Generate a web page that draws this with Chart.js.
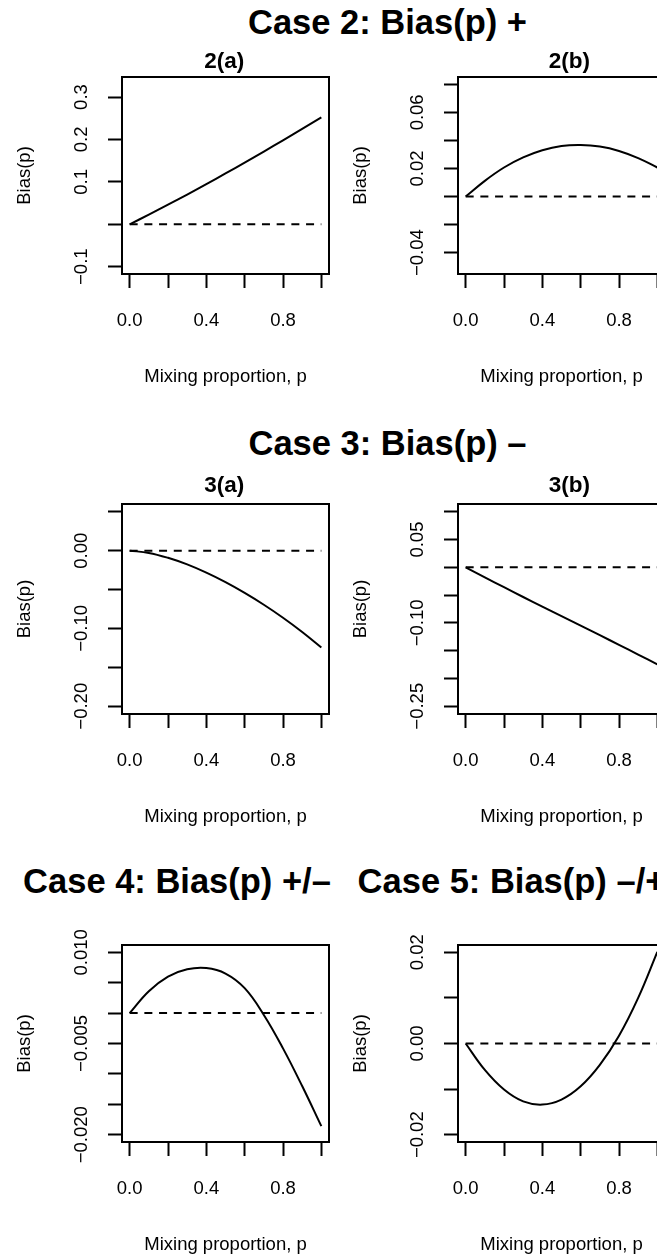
<!DOCTYPE html>
<html>
<head>
<meta charset="utf-8">
<title>Bias(p) by mixing proportion</title>
<script src="https://cdn.jsdelivr.net/npm/chart.js@4.4.1/dist/chart.umd.min.js"></script>
<style>
  html, body { margin: 0; padding: 0; background: #fff; }
  body { position: relative; width: 657px; height: 1260px; overflow: hidden; }
  canvas { position: absolute; }
  .case { position: absolute; width: 600px; text-align: center; white-space: nowrap; color: #000;
          font: bold 34.5px "Liberation Sans", Arial, Helvetica, sans-serif; line-height: 1; }
</style>
</head>
<body>
<script>
// mixing proportion where the curves were read
const p = [0, 0.1, 0.2, 0.3, 0.4, 0.5, 0.6, 0.7, 0.8, 0.9, 1.0];

// Bias(p) for each panel
const bias2a = [0, 0.0227, 0.0461, 0.0701, 0.0947, 0.1198, 0.1454, 0.1715, 0.1980, 0.2249, 0.2522];
const bias2b = [0, 0.0112, 0.0207, 0.0279, 0.0330, 0.0360, 0.0367, 0.0356, 0.0325, 0.0274, 0.0207];
const bias3a = [0, -0.0029, -0.0092, -0.0177, -0.0283, -0.0405, -0.0543, -0.0695, -0.0862, -0.1045, -0.1244];
const bias3b = [0, -0.0180, -0.0358, -0.0534, -0.0708, -0.0880, -0.1051, -0.1222, -0.1395, -0.1570, -0.1747];
const bias4 = [0, 0.0036, 0.0060, 0.0072, 0.0074, 0.0065, 0.0041, -0.0003, -0.0058, -0.0120, -0.0186];
const bias5 = [0, -0.0058, -0.0101, -0.0127, -0.0134, -0.0123, -0.0094, -0.0047, 0.0017, 0.0100, 0.0201];

// dashed reference line
const zeroP = [0, 1];
const zeroBias = [0, 0];

// axis limits (before R's 4% extension)
const ylim2a = [-0.1, 0.33];
const ylim2b = [-0.05, 0.08];
const ylim3a = [-0.2, 0.05];
const ylim3b = [-0.25, 0.10];
const ylim4 = [-0.02, 0.01];
const ylim5 = [-0.02, 0.02];

// ticks and their labels ('' = tick without label)
const xTicks = [0, 0.2, 0.4, 0.6, 0.8, 1.0];
const xTickLabels = ['0.0', '', '0.4', '', '0.8', ''];
const yTicks2a = [-0.1, 0, 0.1, 0.2, 0.3];
const yTickLabels2a = ['\u22120.1', '', '0.1', '0.2', '0.3'];
const yTicks2b = [-0.04, -0.02, 0, 0.02, 0.04, 0.06, 0.08];
const yTickLabels2b = ['\u22120.04', '', '', '0.02', '', '0.06', ''];
const yTicks3a = [-0.2, -0.15, -0.1, -0.05, 0, 0.05];
const yTickLabels3a = ['\u22120.20', '', '\u22120.10', '', '0.00', ''];
const yTicks3b = [-0.25, -0.2, -0.15, -0.1, -0.05, 0, 0.05, 0.1];
const yTickLabels3b = ['\u22120.25', '', '', '\u22120.10', '', '', '0.05', ''];
const yTicks4 = [-0.02, -0.015, -0.01, -0.005, 0, 0.005, 0.01];
const yTickLabels4 = ['\u22120.020', '', '', '\u22120.005', '', '', '0.010'];
const yTicks5 = [-0.02, -0.01, 0, 0.01, 0.02];
const yTickLabels5 = ['\u22120.02', '', '0.00', '', '0.02'];

const caseTitles = ['Case 2: Bias(p) +', 'Case 3: Bias(p) \u2013', 'Case 4: Bias(p) +/\u2013', 'Case 5: Bias(p) \u2013/+'];
const xTitle = 'Mixing proportion, p';
const yTitle = 'Bias(p)';

// ---- layout (pixels) ----
const FONT = '"Liberation Sans", Arial, Helvetica, sans-serif';
const AXIS_SIZE = 18.5;
const TITLE_SIZE = 22.5;
const BOX_W = 207;
const boxTop = [77, 504, 945];
const boxH = [197, 210, 197];
const titleRise = [9.5, 12.2];       // panel title baseline above box
const titleDx = [102.2, 111.3];      // panel title centre from box left
const caseLayout = [
  {center: 387.5, top: 4.8},
  {center: 387.5, top: 425.8},
  {center: 177, top: 863.5},
  {center: 511.5, top: 863.5}
];

Chart.defaults.font.family = FONT;
Chart.defaults.color = '#000';

caseTitles.forEach((t, i) => {
  const d = document.createElement('div');
  d.className = 'case';
  d.textContent = t;
  d.style.left = (caseLayout[i].center - 300) + 'px';
  d.style.top = caseLayout[i].top + 'px';
  document.body.appendChild(d);
});

// box, rotated y tick labels and panel title, R style
const rDecor = {
  id: 'rDecor',
  afterDraw(chart, args, o) {
    const {ctx, chartArea: a} = chart;
    const ys = chart.scales.y;
    ctx.save();
    ctx.strokeStyle = '#000';
    ctx.lineWidth = 2;
    ctx.strokeRect(a.left, a.top, a.right - a.left, a.bottom - a.top);
    ctx.fillStyle = '#000';
    ctx.textAlign = 'center';
    ctx.textBaseline = 'alphabetic';
    ctx.font = AXIS_SIZE + 'px ' + FONT;
    o.ticks.forEach((v, i) => {
      if (!o.labels[i]) return;
      ctx.save();
      ctx.translate(a.left - 42, ys.getPixelForValue(v));
      ctx.rotate(-Math.PI / 2);
      ctx.fillText(o.labels[i], 0, 0.358 * AXIS_SIZE);
      ctx.restore();
    });
    if (o.title) {
      ctx.font = 'bold ' + TITLE_SIZE + 'px ' + FONT;
      ctx.fillText(o.title, a.left + o.dx, a.top - o.rise);
    }
    ctx.restore();
  }
};

const panels = [
  {row: 0, col: 0, title: '2(a)', bias: bias2a, ylim: ylim2a, yTicks: yTicks2a, yLabels: yTickLabels2a},
  {row: 0, col: 1, title: '2(b)', bias: bias2b, ylim: ylim2b, yTicks: yTicks2b, yLabels: yTickLabels2b},
  {row: 1, col: 0, title: '3(a)', bias: bias3a, ylim: ylim3a, yTicks: yTicks3a, yLabels: yTickLabels3a},
  {row: 1, col: 1, title: '3(b)', bias: bias3b, ylim: ylim3b, yTicks: yTicks3b, yLabels: yTickLabels3b},
  {row: 2, col: 0, title: '', bias: bias4, ylim: ylim4, yTicks: yTicks4, yLabels: yTickLabels4},
  {row: 2, col: 1, title: '', bias: bias5, ylim: ylim5, yTicks: yTicks5, yLabels: yTickLabels5}
];

function makePanel(pn) {
  const w = 122 + BOX_W + 30;
  const h = 40 + boxH[pn.row] + 125;
  const cv = document.createElement('canvas');
  cv.width = w;
  cv.height = h;
  cv.style.width = w + 'px';
  cv.style.height = h + 'px';
  cv.style.left = (pn.col * 336) + 'px';
  cv.style.top = (boxTop[pn.row] - 40) + 'px';
  document.body.appendChild(cv);

  const ext = 0.04 * (pn.ylim[1] - pn.ylim[0]);
  const axisFont = {family: FONT, size: AXIS_SIZE};
  const grid = {display: true, drawOnChartArea: false, drawTicks: true, tickLength: 14, tickWidth: 2, tickColor: '#000'};
  const border = {display: true, width: 2, color: '#000'};

  new Chart(cv, {
    type: 'line',
    data: {
      datasets: [
        {
          data: p.map((x, i) => ({x: x, y: pn.bias[i]})),
          borderColor: '#000',
          borderWidth: 2,
          pointRadius: 0,
          tension: 0.4,
          fill: false
        },
        {
          data: zeroP.map((x, i) => ({x: x, y: zeroBias[i]})),
          borderColor: '#000',
          borderWidth: 2,
          borderDash: [8, 6.7],
          pointRadius: 0,
          fill: false
        }
      ]
    },
    options: {
      responsive: false,
      animation: false,
      events: [],
      layout: {padding: {left: 0, right: 30, top: 40, bottom: 0}, autoPadding: false},
      plugins: {
        legend: {display: false},
        tooltip: {enabled: false},
        title: {display: false},
        rDecor: {
          ticks: pn.yTicks, labels: pn.yLabels, title: pn.title,
          dx: titleDx[pn.col], rise: titleRise[pn.row] || 0
        }
      },
      scales: {
        x: {
          type: 'linear',
          min: -0.04,
          max: 1.04,
          afterBuildTicks: s => { s.ticks = xTicks.map(v => ({value: v})); },
          afterFit: s => { s.height = 125; },
          ticks: {
            callback: (v, i) => xTickLabels[i],
            autoSkip: false, maxRotation: 0, minRotation: 0,
            padding: 22, color: '#000', font: axisFont
          },
          grid: grid,
          border: border,
          title: {display: true, text: xTitle, color: '#000', font: axisFont, padding: {top: 0, bottom: 10.9}}
        },
        y: {
          type: 'linear',
          min: pn.ylim[0] - ext,
          max: pn.ylim[1] + ext,
          afterBuildTicks: s => { s.ticks = pn.yTicks.map(v => ({value: v})); },
          afterFit: s => { s.width = 122; },
          ticks: {display: false},
          grid: grid,
          border: border,
          title: {display: true, text: yTitle, color: '#000', font: axisFont, padding: {top: 14, bottom: 0}}
        }
      }
    },
    plugins: [rDecor]
  });
}

panels.forEach(makePanel);
</script>
</body>
</html>
